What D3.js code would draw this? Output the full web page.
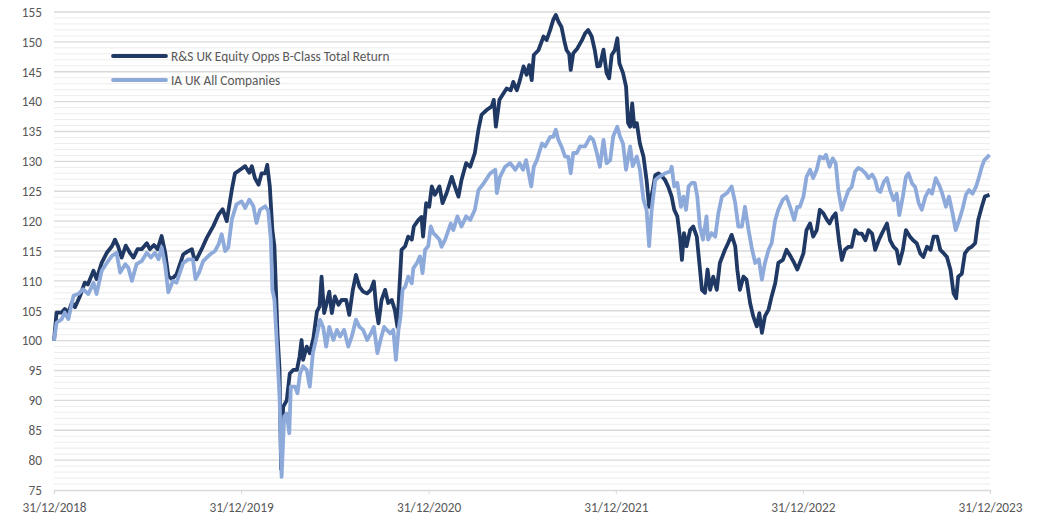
<!DOCTYPE html>
<html>
<head>
<meta charset="utf-8">
<script src="https://cdn.jsdelivr.net/npm/d3@7"></script>
<style>
  html, body { margin: 0; padding: 0; background: #fff; }
  #chart { width: 1038px; height: 519px; }
  text { font-family: Carlito, Calibri, "Liberation Sans", Arial, sans-serif; fill: #595959; }
</style>
</head>
<body>
<div id="chart"></div>
<script>
// days after 31/12/2018 and rebased values
const fundDays = [0, 5, 15, 21, 28, 35, 41, 51, 60, 66, 77, 83, 93, 103, 113, 119, 125, 132, 140, 148, 155, 163, 171, 181, 187, 195, 202, 210, 217, 223, 230, 239, 252, 260, 269, 273, 278, 288, 298, 311, 321, 329, 337, 347, 353, 363, 373, 381, 386, 392, 399, 405, 412, 416, 421, 426, 430, 433, 436, 440, 443, 447, 454, 460, 467, 474, 479, 483, 486, 493, 499, 506, 513, 518, 522, 527, 532, 537, 542, 548, 555, 561, 570, 576, 583, 589, 596, 603, 611, 618, 624, 629, 633, 639, 646, 652, 659, 665, 670, 674, 678, 685, 691, 698, 702, 711, 717, 720, 726, 732, 737, 743, 752, 758, 766, 776, 782, 789, 795, 804, 812, 821, 828, 834, 844, 854, 858, 862, 869, 877, 883, 891, 896, 903, 909, 916, 922, 927, 932, 936, 945, 955, 961, 968, 974, 979, 984, 990, 996, 1000, 1005, 1008, 1013, 1021, 1030, 1036, 1042, 1049, 1055, 1060, 1065, 1072, 1078, 1083, 1088, 1094, 1099, 1103, 1110, 1116, 1120, 1124, 1128, 1132, 1137, 1143, 1150, 1156, 1161, 1168, 1173, 1179, 1186, 1192, 1198, 1205, 1210, 1216, 1221, 1225, 1229, 1234, 1241, 1247, 1254, 1259, 1264, 1270, 1275, 1280, 1286, 1293, 1299, 1309, 1315, 1322, 1329, 1333, 1338, 1345, 1351, 1358, 1364, 1371, 1376, 1381, 1387, 1394, 1400, 1407, 1413, 1422, 1429, 1437, 1444, 1450, 1455, 1462, 1468, 1475, 1481, 1488, 1494, 1501, 1508, 1513, 1519, 1525, 1532, 1537, 1543, 1550, 1556, 1563, 1569, 1576, 1583, 1589, 1596, 1602, 1609, 1615, 1625, 1631, 1638, 1644, 1649, 1656, 1662, 1670, 1676, 1683, 1690, 1696, 1703, 1710, 1716, 1723, 1729, 1736, 1742, 1749, 1755, 1760, 1764, 1771, 1777, 1784, 1790, 1797, 1803, 1810, 1816, 1825]
const fundValues = [100, 104.7, 104.7, 105.3, 104.7, 106.4, 105.6, 107.5, 109.7, 109.4, 111.7, 110.3, 113, 114.7, 115.8, 116.9, 115.8, 113.9, 115.9, 114.7, 113.9, 115.3, 115.3, 116.3, 115.3, 116, 115.3, 117.5, 114.7, 110.8, 110.3, 111.1, 114.4, 114.9, 115.3, 113.9, 113.6, 115.3, 117.2, 119.2, 121.1, 122, 120, 125.3, 128, 128.6, 129.2, 128.1, 129.2, 127.2, 126.1, 128, 128, 129.4, 125.8, 118.5, 115.8, 108.5, 101.2, 95.1, 78.5, 88.9, 90, 94.5, 95.1, 95.1, 97.3, 100.1, 96.8, 99, 97.9, 100.4, 104.9, 105.7, 110.7, 104.6, 106.3, 108.2, 104.6, 107.4, 106, 106.8, 106.8, 104.3, 108.5, 111, 109, 108.2, 107.9, 108.5, 109.9, 105.1, 102.9, 106.8, 108.5, 106.3, 106.8, 105.1, 102.3, 109, 115.2, 115.8, 117.4, 116.9, 119.1, 120.2, 120.7, 117.4, 123, 122.4, 125.8, 124.4, 125.8, 123, 124.7, 127.4, 125.8, 124.1, 126.9, 129.7, 129.1, 131.4, 135.3, 137.8, 138.6, 139.2, 140.3, 135.8, 140.3, 141.4, 142.2, 141.9, 143.3, 141.9, 143.6, 145.9, 144.5, 146.1, 143.6, 147.8, 148.6, 150.9, 150.3, 152, 153.7, 154.5, 153.4, 152.5, 150, 148.6, 148, 145.3, 148.1, 148.9, 150.3, 151.4, 152, 150.9, 148.6, 145.9, 146, 148.7, 144.8, 143.9, 147.8, 148.6, 150.6, 146.4, 144.8, 142.5, 136.4, 135.8, 139.7, 135.8, 136.4, 133, 130.8, 126.9, 122.4, 125.2, 127.7, 128, 127.5, 126.9, 125.8, 124.1, 121.9, 120.8, 117.4, 113.5, 118, 115.8, 118.5, 119.1, 117.4, 113, 108.5, 108, 111.9, 108.5, 110.7, 108.5, 113, 115.2, 116.3, 117.7, 115.8, 111.9, 108.5, 110.7, 110.2, 106.3, 104.1, 102.4, 104.6, 101.3, 104.1, 105.2, 107.4, 109.6, 113, 113.5, 115.2, 114.1, 113, 111.9, 113, 114.6, 118.5, 119.6, 117.4, 118.5, 121.9, 121.3, 120.2, 119.6, 120.7, 121.3, 116.3, 113.5, 115.2, 115.7, 115.7, 118.5, 117.9, 117.9, 116.8, 118.5, 117.9, 115.2, 116.8, 117.9, 119.6, 116.8, 115.7, 115.2, 112.9, 115.2, 118.5, 117.4, 116.8, 116.3, 114.6, 114, 115.7, 115.2, 117.4, 117.4, 115.2, 114.6, 114, 111.8, 107.9, 107.1, 110.7, 111.2, 114.6, 115.4, 115.7, 116.3, 120.2, 122.4, 124.1, 124.4]

const sectorDays = [0, 5, 15, 21, 28, 38, 47, 57, 67, 77, 83, 93, 103, 113, 122, 129, 139, 145, 152, 161, 171, 181, 189, 197, 204, 210, 217, 223, 232, 239, 252, 262, 271, 276, 283, 291, 304, 314, 321, 327, 334, 340, 347, 356, 366, 373, 381, 389, 395, 402, 412, 418, 423, 426, 430, 434, 440, 444, 449, 454, 459, 462, 470, 475, 480, 486, 493, 499, 505, 511, 519, 525, 531, 537, 545, 552, 558, 566, 574, 581, 589, 596, 603, 611, 618, 624, 631, 637, 644, 649, 656, 662, 667, 672, 676, 680, 685, 691, 698, 701, 708, 714, 719, 724, 730, 735, 740, 747, 752, 756, 763, 774, 779, 787, 795, 804, 812, 821, 828, 838, 851, 861, 864, 870, 880, 890, 900, 908, 915, 921, 931, 936, 942, 952, 958, 968, 974, 979, 984, 990, 997, 1003, 1008, 1013, 1020, 1026, 1036, 1046, 1052, 1059, 1065, 1072, 1078, 1085, 1091, 1099, 1104, 1110, 1116, 1124, 1129, 1137, 1143, 1150, 1156, 1161, 1166, 1173, 1182, 1192, 1202, 1205, 1210, 1216, 1223, 1228, 1233, 1238, 1244, 1250, 1255, 1260, 1266, 1273, 1276, 1283, 1290, 1296, 1303, 1313, 1322, 1329, 1335, 1342, 1348, 1355, 1362, 1368, 1375, 1381, 1387, 1394, 1400, 1407, 1413, 1422, 1429, 1436, 1444, 1450, 1455, 1462, 1468, 1475, 1481, 1488, 1494, 1501, 1506, 1513, 1519, 1525, 1530, 1537, 1543, 1550, 1556, 1563, 1569, 1576, 1583, 1589, 1596, 1602, 1607, 1612, 1619, 1625, 1631, 1638, 1644, 1649, 1656, 1662, 1667, 1674, 1680, 1687, 1693, 1700, 1707, 1713, 1720, 1727, 1733, 1740, 1746, 1753, 1759, 1766, 1772, 1779, 1785, 1792, 1799, 1805, 1810, 1815, 1822, 1825]
const sectorValues = [100, 103, 103.6, 104.7, 103.6, 107.5, 107.8, 108.6, 107.8, 109.7, 107.8, 111.7, 113, 114.2, 114.7, 111.4, 112.8, 112.2, 110, 112.8, 113.3, 114.7, 113.9, 114.7, 113.6, 115.6, 112.5, 108.1, 110, 109.7, 113, 113.6, 113.6, 110.3, 111.4, 113.3, 114.4, 115, 116.1, 117.8, 115, 115.6, 120.3, 122.8, 123.3, 122.2, 123.6, 122.5, 119.7, 121.9, 122.5, 121.7, 116.9, 108.5, 106.8, 100.7, 90.6, 77.2, 87.3, 87.8, 84.5, 92.3, 92.3, 91.2, 94.5, 95.7, 95.1, 92.3, 97.9, 100.1, 103.5, 102.3, 99, 102.3, 100.1, 101.8, 100.7, 101.8, 99, 100.7, 103.5, 102.3, 101.8, 100.1, 101.2, 102.3, 97.9, 100.1, 102.3, 101.8, 101.2, 101.8, 96.8, 101.8, 104, 108.5, 109, 110.7, 109.6, 112.1, 113, 114.1, 111.3, 115.2, 115.8, 119.1, 118, 117.4, 116.9, 115.7, 116.9, 119.6, 118.5, 120.8, 119.1, 120.8, 120.2, 121.9, 125.2, 126.3, 128, 128.6, 124.7, 127.4, 129.1, 129.7, 128.6, 129.7, 128.6, 130.2, 125.8, 129.1, 130.2, 133, 132.5, 134.1, 134.1, 135.3, 133.6, 132.5, 130.8, 130.8, 128, 131.4, 131.4, 132.5, 132.5, 134.1, 133.6, 131.4, 129.1, 133.6, 129.7, 130.2, 134.2, 135.8, 134.2, 133, 128.6, 132.5, 129.2, 130.8, 128.6, 123.6, 121.9, 115.8, 121.9, 126.9, 127.5, 128, 128.3, 129.1, 125.8, 126.4, 122.4, 124.1, 121.9, 125.8, 126.4, 126.4, 124.1, 119.1, 116.9, 120.8, 116.9, 118, 117.4, 121.3, 124.1, 124.7, 125.8, 123, 119.1, 119.1, 122.4, 118.5, 115.2, 113, 113.6, 110.2, 113, 115.2, 116.3, 120.2, 121.9, 123.6, 124.1, 122.4, 120.2, 122.4, 122.4, 124.1, 127.4, 128.6, 127.2, 128.6, 130.8, 130.5, 131.1, 129.1, 130.5, 129.7, 125.2, 121.9, 123.5, 125.2, 125.7, 128.3, 128.9, 128.6, 128, 127.2, 127.8, 126.9, 125.2, 124.9, 126.6, 127.2, 125.2, 123.5, 124.6, 121, 124.1, 127.4, 128, 126.3, 125.7, 123, 121.9, 124.1, 125.2, 124.6, 127.2, 126, 124.6, 122.4, 124.1, 121.3, 118.5, 120.2, 121.9, 124.4, 125.2, 124.6, 125.8, 127.5, 129.1, 130.2, 130.8, 131.1]

const seriesNames = ['R&S UK Equity Opps B-Class Total Return', 'IA UK All Companies']
const seriesColors = ['#1f3864', '#8eaadb']
const xTickLabels = ['31/12/2018', '31/12/2019', '31/12/2020', '31/12/2021', '31/12/2022', '31/12/2023']
const yMin = 75
const yMax = 155

const width = 1038
const height = 519
const margin = { top: 12, right: 48, bottom: 29, left: 54 }
const innerW = width - margin.left - margin.right
const innerH = height - margin.top - margin.bottom

const parseDay = d3.timeParse('%d/%m/%Y')
const start = parseDay(xTickLabels[0])
const end = parseDay(xTickLabels[xTickLabels.length - 1])
const toDate = d => d3.timeDay.offset(start, d)

const fund = fundDays.map((d, i) => ({ date: toDate(d), value: fundValues[i] }))
const sector = sectorDays.map((d, i) => ({ date: toDate(d), value: sectorValues[i] }))

const svg = d3.select('#chart')
  .append('svg')
  .attr('width', width)
  .attr('height', height)
  .append('g')
  .attr('transform', `translate(${margin.left},${margin.top})`)

const x = d3.scaleTime()
  .domain([start, end])
  .range([0, innerW])

const y = d3.scaleLinear()
  .domain([yMin, yMax])
  .range([innerH, 0])

// minor grid every 1, major every 5
svg.append('g')
  .selectAll('line')
  .data(d3.range(yMin + 1, yMax).filter(v => v % 5 !== 0))
  .join('line')
  .attr('x1', 0)
  .attr('x2', innerW)
  .attr('y1', d => y(d))
  .attr('y2', d => y(d))
  .attr('stroke', '#ededed')
  .attr('stroke-width', 1)

svg.append('g')
  .selectAll('line')
  .data(d3.range(yMin + 5, yMax + 1, 5))
  .join('line')
  .attr('x1', 0)
  .attr('x2', innerW)
  .attr('y1', d => y(d))
  .attr('y2', d => y(d))
  .attr('stroke', '#d9d9d9')
  .attr('stroke-width', 1.3)

// y axis labels
const yAxis = svg.append('g')
  .call(d3.axisLeft(y).tickValues(d3.range(yMin, yMax + 1, 5)).tickSize(0).tickPadding(12))
yAxis.select('.domain').remove()
yAxis.selectAll('text')
  .style('font-size', '13.3px')
  .attr('fill', '#595959')

// x axis
const tickDates = xTickLabels.map(parseDay)
const xAxis = svg.append('g')
  .attr('transform', `translate(0,${innerH})`)
  .call(d3.axisBottom(x).tickValues(tickDates).tickSize(4).tickPadding(9)
    .tickFormat((d, i) => xTickLabels[i]))
xAxis.select('.domain').attr('stroke', '#d9d9d9').attr('stroke-width', 1.3)
xAxis.selectAll('.tick line').attr('stroke', '#d9d9d9')
xAxis.selectAll('text')
  .style('font-size', '13.3px')
  .attr('fill', '#595959')

const line = d3.line()
  .x(d => x(d.date))
  .y(d => y(d.value))

svg.append('path')
  .datum(fund)
  .attr('fill', 'none')
  .attr('stroke', seriesColors[0])
  .attr('stroke-width', 3.8)
  .attr('stroke-linejoin', 'round')
  .attr('d', line)

svg.append('path')
  .datum(sector)
  .attr('fill', 'none')
  .attr('stroke', seriesColors[1])
  .attr('stroke-width', 3.8)
  .attr('stroke-linejoin', 'round')
  .attr('d', line)

// legend
const legend = svg.append('g')
  .attr('transform', 'translate(59,44)')

seriesNames.forEach((name, i) => {
  const g = legend.append('g').attr('transform', `translate(0,${i * 24})`)
  g.append('line')
    .attr('x1', 0)
    .attr('x2', 53)
    .attr('stroke', seriesColors[i])
    .attr('stroke-width', 3.8)
    .attr('stroke-linecap', 'round')
  g.append('text')
    .attr('x', 58)
    .attr('dy', '0.35em')
    .style('font-size', '13.3px')
    .text(name)
})
</script>
</body>
</html>
